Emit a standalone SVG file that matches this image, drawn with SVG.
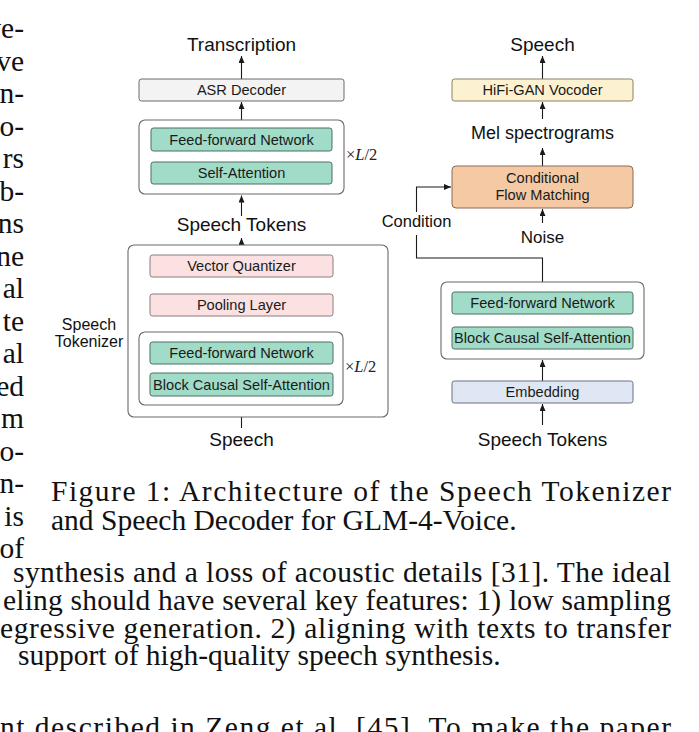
<svg xmlns="http://www.w3.org/2000/svg" width="699" height="732" viewBox="0 0 699 732">
<defs>
<marker id="ah" markerWidth="7" markerHeight="6" refX="7" refY="3" orient="auto" markerUnits="userSpaceOnUse">
<path d="M0,0 L7,3 L0,6 z" fill="#1a1a1a"/>
</marker>
<style>
.ct{fill:#ffffff;stroke:#6a6a6a;stroke-width:1.1}
.teal{fill:#a0dcc8;stroke:#4d6e63;stroke-width:1}
.pink{fill:#fbe1e1;stroke:#8c7c7c;stroke-width:1}
.gray{fill:#f3f3f3;stroke:#6a6a6a;stroke-width:1}
.yel{fill:#fcf2d2;stroke:#8a8060;stroke-width:1}
.peach{fill:#f4c9a4;stroke:#8a6a50;stroke-width:1}
.blue{fill:#dfe6f4;stroke:#6a7080;stroke-width:1}
.lb{font-family:"Liberation Sans",Arial,sans-serif;font-size:14.6px;fill:#1a1a1a;text-anchor:middle}
.big{font-family:"Liberation Sans",Arial,sans-serif;font-size:19px;fill:#111;text-anchor:middle}
.mid{font-family:"Liberation Sans",Arial,sans-serif;font-size:16.5px;fill:#111;text-anchor:middle}
.math{font-family:"Liberation Serif","Times New Roman",serif;font-size:16.5px;fill:#222}
.tx{font-family:"Liberation Serif","Times New Roman",serif;font-size:29.5px;fill:#111}
.le{font-family:"Liberation Serif","Times New Roman",serif;font-size:29.5px;fill:#111;text-anchor:end}
.cn{fill:none;stroke:#1a1a1a;stroke-width:1.1}
</style>
</defs>
<rect width="699" height="732" fill="#ffffff"/>

<g id="leftcol">
<text class="le" x="24" y="38">ve-</text>
<text class="le" x="24" y="70.5">ve</text>
<text class="le" x="24" y="103">n-</text>
<text class="le" x="24" y="135.5">o-</text>
<text class="le" x="24" y="168">rs</text>
<text class="le" x="24" y="200.5">b-</text>
<text class="le" x="24" y="233">ns</text>
<text class="le" x="24" y="265.5">ne</text>
<text class="le" x="24" y="298">al</text>
<text class="le" x="24" y="330.5">te</text>
<text class="le" x="24" y="363">al</text>
<text class="le" x="24" y="395.5">ed</text>
<text class="le" x="24" y="428">m</text>
<text class="le" x="24" y="460.5">o-</text>
<text class="le" x="24" y="493">n-</text>
<text class="le" x="24" y="525.5">is</text>
<text class="le" x="24" y="558">of</text>
</g>

<g id="connectors">
<line class="cn" x1="241.5" y1="79" x2="241.5" y2="56" marker-end="url(#ah)"/>
<line class="cn" x1="241.5" y1="120" x2="241.5" y2="102" marker-end="url(#ah)"/>
<line class="cn" x1="241.5" y1="216" x2="241.5" y2="195.5" marker-end="url(#ah)"/>
<line class="cn" x1="241.5" y1="255" x2="241.5" y2="238" marker-end="url(#ah)"/>
<line class="cn" x1="241.5" y1="294" x2="241.5" y2="278" marker-end="url(#ah)"/>
<line class="cn" x1="241.5" y1="332" x2="241.5" y2="317" marker-end="url(#ah)"/>
<line class="cn" x1="241.5" y1="428" x2="241.5" y2="406" marker-end="url(#ah)"/>
<line class="cn" x1="542.5" y1="79" x2="542.5" y2="56" marker-end="url(#ah)"/>
<line class="cn" x1="542.5" y1="119" x2="542.5" y2="102" marker-end="url(#ah)"/>
<line class="cn" x1="542.5" y1="166" x2="542.5" y2="148" marker-end="url(#ah)"/>
<line class="cn" x1="542.5" y1="223" x2="542.5" y2="209" marker-end="url(#ah)"/>
<path class="cn" d="M542.5,282 V258 H416.5 V235"/>
<path class="cn" d="M416.5,212 V187 H451" marker-end="url(#ah)"/>
<line class="cn" x1="542.5" y1="381" x2="542.5" y2="360" marker-end="url(#ah)"/>
<line class="cn" x1="542.5" y1="425" x2="542.5" y2="404" marker-end="url(#ah)"/>
</g>

<g id="tokenizer">
<rect class="ct" x="128" y="245" width="260" height="172" rx="6"/>
<text class="mid" x="89" y="330" style="font-size:16px">Speech</text>
<text class="mid" x="89" y="347" style="font-size:16px">Tokenizer</text>
</g>
<g id="tok-encoder">
<rect class="ct" x="139" y="332" width="204" height="73" rx="6"/>
<text class="math" x="345" y="372">×<tspan font-style="italic">L</tspan>/2</text>
</g>
<g id="vector-quantizer">
<rect class="pink" x="150" y="255" width="183" height="22" rx="2.5"/>
<text class="lb" x="241.5" y="271">Vector Quantizer</text>
</g>
<g id="pooling-layer">
<rect class="pink" x="150" y="294" width="183" height="22" rx="2.5"/>
<text class="lb" x="241.5" y="310">Pooling Layer</text>
</g>
<g id="tok-ffn">
<rect class="teal" x="150" y="342" width="183" height="22" rx="2.5"/>
<text class="lb" x="241.5" y="358">Feed-forward Network</text>
</g>
<g id="tok-bcsa">
<rect class="teal" x="150" y="373" width="183" height="23" rx="2.5"/>
<text class="lb" x="241.5" y="389.5">Block Causal Self-Attention</text>
</g>

<g id="asr-encoder">
<rect class="ct" x="139" y="120" width="205" height="74" rx="6"/>
<text class="math" x="346" y="160">×<tspan font-style="italic">L</tspan>/2</text>
</g>
<g id="asr-ffn">
<rect class="teal" x="151" y="128" width="181" height="23" rx="2.5"/>
<text class="lb" x="241.5" y="144.5">Feed-forward Network</text>
</g>
<g id="asr-sa">
<rect class="teal" x="151" y="162" width="181" height="22" rx="2.5"/>
<text class="lb" x="241.5" y="178">Self-Attention</text>
</g>
<g id="asr-decoder">
<rect class="gray" x="139" y="79" width="205" height="22" rx="2.5"/>
<text class="lb" x="241.5" y="95">ASR Decoder</text>
</g>
<g id="labels-left">
<text class="big" x="241.5" y="51">Transcription</text>
<text class="big" x="241.5" y="231">Speech Tokens</text>
<text class="big" x="241.5" y="446">Speech</text>
</g>

<g id="hifigan">
<rect class="yel" x="452" y="79" width="181" height="22" rx="2.5"/>
<text class="lb" x="542.5" y="95">HiFi-GAN Vocoder</text>
</g>
<g id="cfm">
<rect class="peach" x="452" y="166" width="181" height="42" rx="4"/>
<text class="lb" x="542.5" y="182.5">Conditional</text>
<text class="lb" x="542.5" y="200">Flow Matching</text>
</g>
<g id="dec-block">
<rect class="ct" x="441" y="282" width="203" height="77" rx="6"/>
</g>
<g id="dec-ffn">
<rect class="teal" x="452" y="292" width="181" height="22" rx="2.5"/>
<text class="lb" x="542.5" y="308">Feed-forward Network</text>
</g>
<g id="dec-bcsa">
<rect class="teal" x="452" y="327" width="181" height="22" rx="2.5"/>
<text class="lb" x="542.5" y="343">Block Causal Self-Attention</text>
</g>
<g id="embedding">
<rect class="blue" x="452" y="381" width="181" height="22" rx="2.5"/>
<text class="lb" x="542.5" y="397">Embedding</text>
</g>
<g id="labels-right">
<text class="big" x="542.5" y="51">Speech</text>
<text class="big" x="542.5" y="139" style="font-size:18px">Mel spectrograms</text>
<text class="mid" x="542.5" y="243" style="font-size:17px">Noise</text>
<text class="mid" x="416.5" y="227">Condition</text>
<text class="big" x="542.5" y="446">Speech Tokens</text>
</g>

<g id="caption">
<text class="tx" x="51" y="501" textLength="620" lengthAdjust="spacing">Figure 1:  Architecture of the Speech Tokenizer</text>
<text class="tx" x="51" y="530">and Speech Decoder for GLM-4-Voice.</text>
</g>
<g id="body">
<text class="tx" x="13" y="582" textLength="658" lengthAdjust="spacing">synthesis and a loss of acoustic details [31]. The ideal</text>
<text class="tx" x="3" y="610" textLength="668" lengthAdjust="spacing">eling should have several key features: 1) low sampling</text>
<text class="tx" x="0" y="638" textLength="671" lengthAdjust="spacing">egressive generation. 2) aligning with texts to transfer</text>
<text class="tx" x="18" y="665">support of high-quality speech synthesis.</text>
<text class="tx" x="0" y="737" textLength="671" lengthAdjust="spacing">nt described in Zeng et al. [45]. To make the paper</text>
</g>
</svg>
